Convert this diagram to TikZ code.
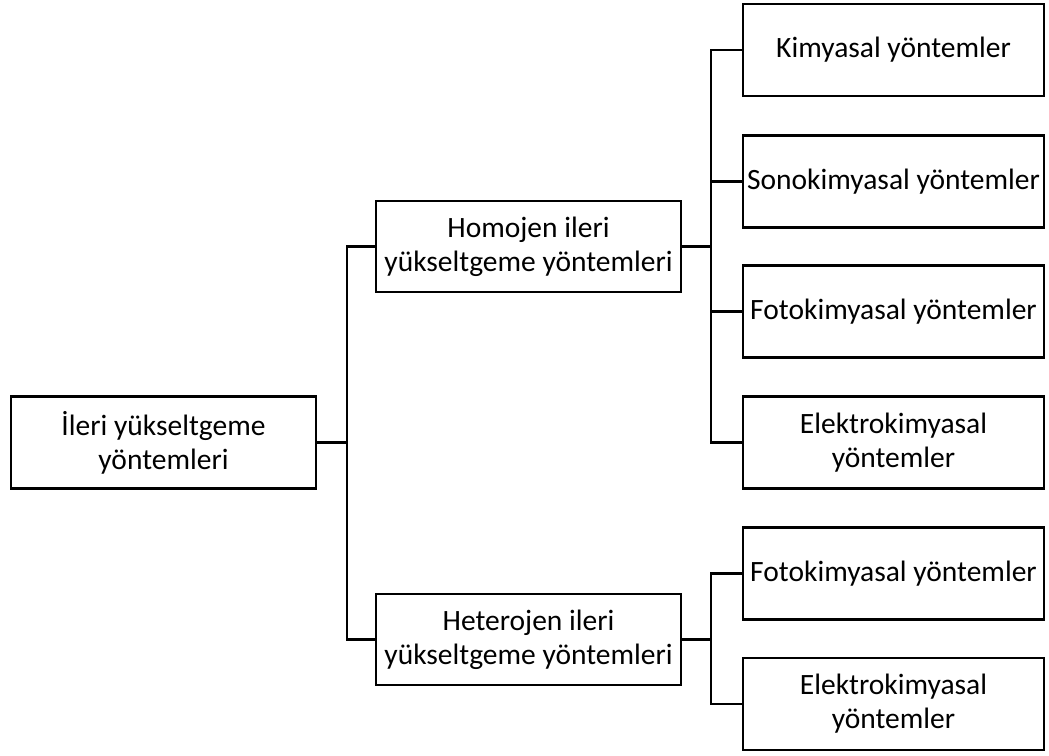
\documentclass[tikz,border=0pt]{standalone}
\usepackage{fontspec}
\setmainfont{Carlito}
\begin{document}
\begin{tikzpicture}[x=1pt,y=-1pt,
    kutu/.style={draw,line width=2.2pt,align=center,inner sep=0pt,
        font=\fontsize{29.5}{34}\selectfont},
    anakutu/.style={kutu,minimum width=305pt,minimum height=92pt},
    altkutu/.style={kutu,minimum width=305pt,minimum height=91pt},
    yontem/.style={kutu,minimum width=301pt,minimum height=92pt},
    hat/.style={line width=2.2pt}]
    \useasboundingbox (0,0) rectangle (1049,755);

    % Boxes
    \node[anakutu] (ileri) at (163.5,442.5) {İleri yükseltgeme\\yöntemleri};
    \node[altkutu] (homojen) at (528.5,246.5) {Homojen ileri\\yükseltgeme yöntemleri};
    \node[altkutu] (heterojen) at (528.5,639.5) {Heterojen ileri\\yükseltgeme yöntemleri};

        % homojen
        \node[yontem] (kimya) at (893.5,50) {Kimyasal yöntemler};
        \node[yontem] (sono) at (893.5,181.5) {Sonokimyasal yöntemler};
        \node[yontem] (foto) at (893.5,311.5) {Fotokimyasal yöntemler};
        \node[yontem] (elektro) at (893.5,442.5) {Elektrokimyasal\\yöntemler};

        % heterojen
        \node[yontem] (fotoh) at (893.5,573.5) {Fotokimyasal yöntemler};
        \node[yontem] (elektroh) at (893.5,704) {Elektrokimyasal\\yöntemler};

    % Lines
    \coordinate (kol1) at (347,442.5);
    \coordinate (kol2) at (711,246.5);
    \coordinate (kol3) at (711,639.5);

    \draw[hat] (ileri.east) -- (kol1);
    \draw[hat] (kol1) |- (homojen.west);
    \draw[hat] (kol1) |- (heterojen.west);

    \draw[hat] (homojen.east) -- (kol2);
    \foreach \n in {kimya,sono,foto,elektro}
        \draw[hat] (kol2) |- (\n.west);

    \draw[hat] (heterojen.east) -- (kol3);
    \foreach \n in {fotoh,elektroh}
        \draw[hat] (kol3) |- (\n.west);
\end{tikzpicture}
\end{document}
